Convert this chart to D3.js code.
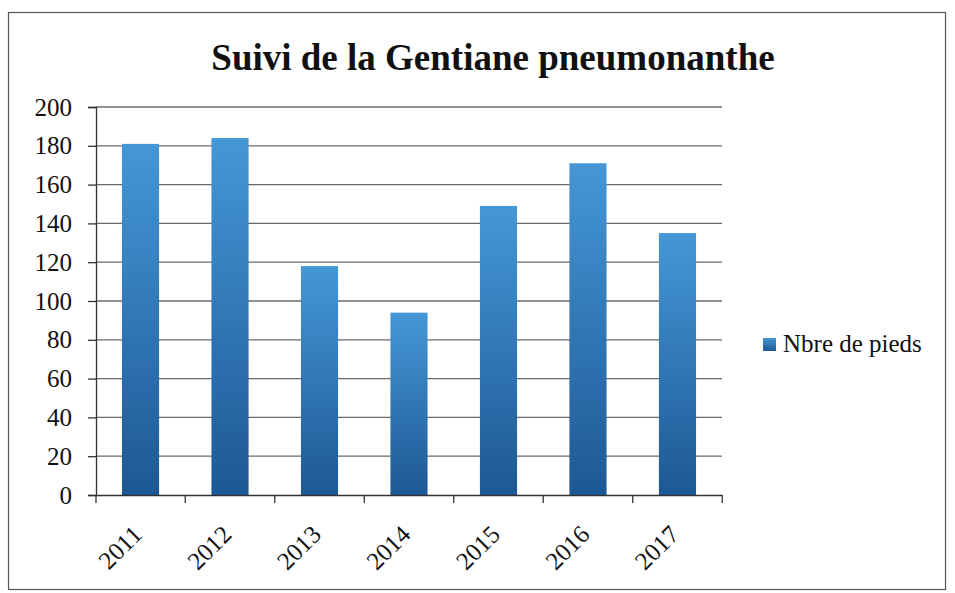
<!DOCTYPE html>
<html><head><meta charset="utf-8">
<script src="https://cdn.jsdelivr.net/npm/d3@7"></script>
<style>body{margin:0;background:#fff}svg{display:block}
.serif{font-family:"Liberation Serif","DejaVu Serif",serif}</style>
</head><body>
<svg id="c" width="955" height="593"></svg>
<script>
const categories = ["2011","2012","2013","2014","2015","2016","2017"];
const values = [181, 184, 118, 94, 149, 171, 135];
const yTicks = [0,20,40,60,80,100,120,140,160,180,200];
const seriesName = "Nbre de pieds";
const title = "Suivi de la Gentiane pneumonanthe";

const svg = d3.select("#c");
const m = {left:96, right:722, top:107, bottom:495};
const serif = '"Liberation Serif","DejaVu Serif",serif';

// frame
svg.append("rect").attr("x",8.5).attr("y",12.5).attr("width",937).attr("height",577)
  .attr("fill","none").attr("stroke","#555").attr("stroke-width",1.2);

const defs = svg.append("defs");
const g = defs.append("linearGradient").attr("id","bg").attr("x1",0).attr("y1",0).attr("x2",0).attr("y2",1);
g.append("stop").attr("offset","0%").attr("stop-color","#4597d6");
g.append("stop").attr("offset","100%").attr("stop-color","#1d5894");

const x = d3.scaleBand().domain(categories).range([m.left, m.right]).paddingInner(0.585).paddingOuter(0.29);
const y = d3.scaleLinear().domain([0,200]).range([m.bottom, m.top]);

// gridlines
svg.append("g").selectAll("line").data(yTicks.filter(d=>d>0)).join("line")
  .attr("x1",m.left).attr("x2",m.right).attr("y1",d=>y(d)).attr("y2",d=>y(d))
  .attr("stroke","#6a6a6a").attr("stroke-width",1.3);

// bars
svg.append("g").selectAll("rect").data(values).join("rect")
  .attr("x",(d,i)=>x(categories[i])).attr("width",x.bandwidth())
  .attr("y",d=>y(d)).attr("height",d=>y(0)-y(d)).attr("fill","url(#bg)");

// y axis
const ya = svg.append("g").attr("transform",`translate(${m.left},0)`)
  .call(d3.axisLeft(y).tickValues(yTicks).tickSize(8).tickPadding(16));
ya.attr("font-family",null).attr("font-size",null);
ya.select(".domain").attr("stroke","#333").attr("stroke-width",1.3);
ya.selectAll(".tick line").attr("stroke","#333").attr("stroke-width",1.3);
ya.selectAll("text").attr("class","serif").style("font-family",serif).style("font-size","25px").attr("fill","#111");

// x axis
const xa = svg.append("g").attr("transform",`translate(0,${m.bottom})`)
  .call(d3.axisBottom(x).tickSize(0).tickFormat(""));
xa.attr("font-family",null).attr("font-size",null);
xa.select(".domain").attr("stroke","#333").attr("stroke-width",1.3);
const bounds = [m.left].concat(categories.map(c=>x(c)+x.bandwidth()/2+x.step()/2));
xa.selectAll(".bt").data(bounds).join("line").attr("class","bt")
  .attr("x1",d=>d).attr("x2",d=>d).attr("y1",0).attr("y2",8).attr("stroke","#333").attr("stroke-width",1.3);
xa.selectAll(".xl").data(categories).join("text").attr("class","xl")
  .attr("transform",d=>`translate(${x(d)+x.bandwidth()/2+3},${41}) rotate(-45)`)
  .attr("text-anchor","end")
  .style("font-family",serif).style("font-size","25px").attr("fill","#111").text(d=>d);

// title
svg.append("text").attr("x",493).attr("y",70).attr("text-anchor","middle")
  .style("font-family",serif).style("font-weight","bold").style("font-size","37px").attr("fill","#111").text(title);

// legend
svg.append("rect").attr("x",763).attr("y",338).attr("width",13).attr("height",13).attr("fill","url(#bg)");
svg.append("text").attr("x",783).attr("y",352)
  .style("font-family",serif).style("font-size","25px").attr("fill","#111").text(seriesName);
</script>
</body></html>
